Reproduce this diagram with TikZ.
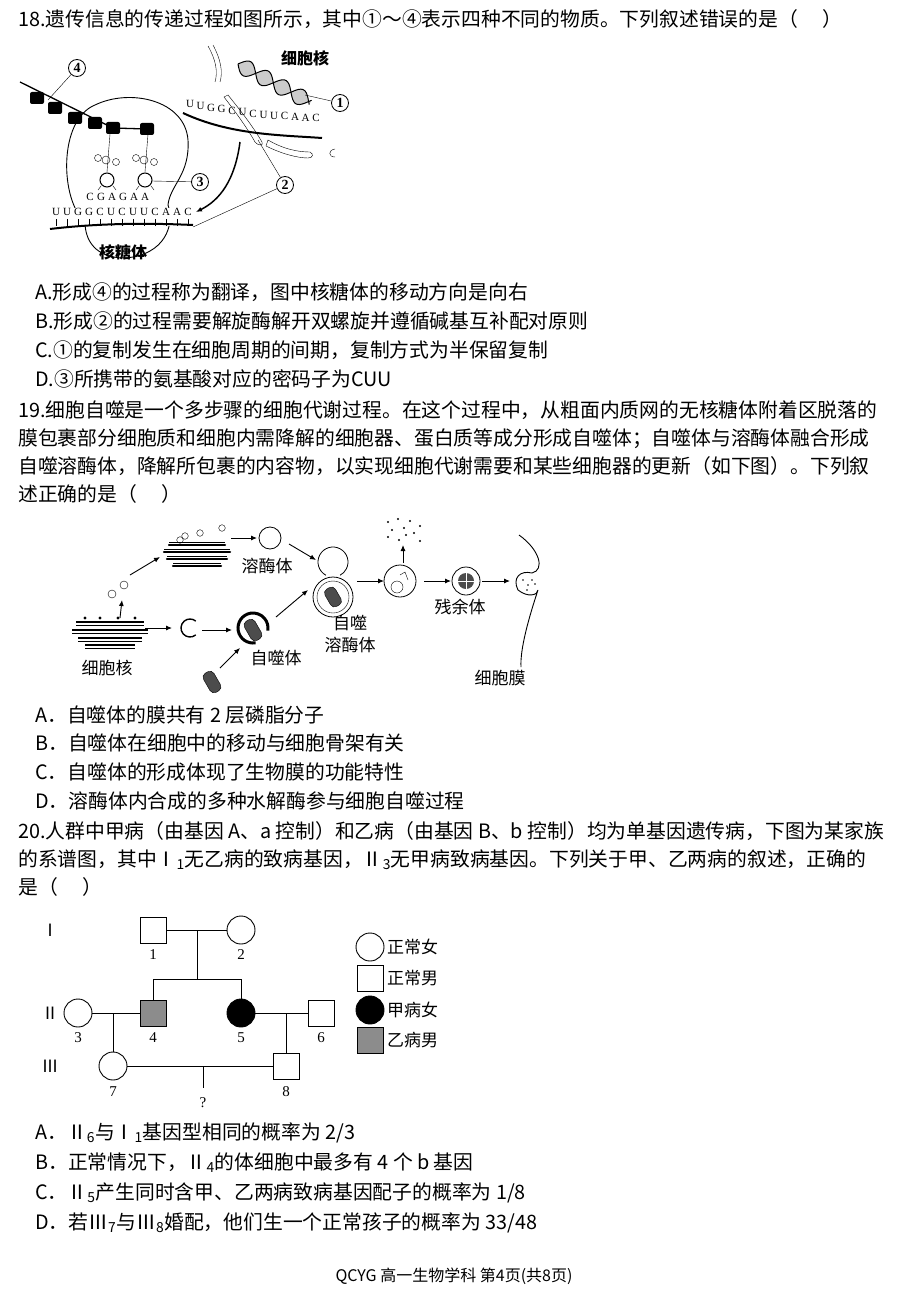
\documentclass[tikz,border=0pt]{standalone}
\usepackage{fontspec}
\setmainfont{Noto Sans CJK SC}
\newfontfamily\lat{Liberation Serif}
\usetikzlibrary{arrows.meta}
\begin{document}
\begin{tikzpicture}[x=1pt,y=-1pt,
 txt/.style={anchor=base west,inner sep=0pt,font=\fontsize{19.8}{22}\selectfont},
 lab/.style={inner sep=0pt,font=\fontsize{16}{18}\selectfont\bfseries},
 lab2/.style={inner sep=0pt,font=\fontsize{17}{18}\selectfont},
 num/.style={inner sep=0pt,font=\lat\fontsize{15}{16}\selectfont},
 cn/.style={draw,circle,inner sep=0pt,minimum size=17pt,line width=0.8pt,font=\lat\fontsize{14}{14}\selectfont\bfseries},
 arr/.style={-{Latex[length=6pt,width=5pt]},line width=0.9pt},
 pl/.style={line width=0.9pt},
 mito/.style={fill=black!70,draw=black,rounded corners=4.5pt},
 bead/.style={fill=black,rounded corners=2pt}]
\useasboundingbox[fill=white] (0,0) rectangle (908,1295);
% ---- Q18 text
\node[txt] (t18) at (18,27) {18.遗传信息的传递过程如图所示，其中①～④表示四种不同的物质。下列叙述错误的是（\quad\ ）};
\node[txt] (a18) at (35,299) {A.形成④的过程称为翻译，图中核糖体的移动方向是向右};
\node[txt] (b18) at (35,328) {B.形成②的过程需要解旋酶解开双螺旋并遵循碱基互补配对原则};
\node[txt] (c18) at (35,357) {C.①的复制发生在细胞周期的间期，复制方式为半保留复制};
\node[txt] (d18) at (35,386) {D.③所携带的氨基酸对应的密码子为CUU};
% ---- Figure 1
\draw[pl] (85,222) .. controls (60,200) and (58,120) .. (95,105) .. controls (130,88) and (185,100) .. (188,140) .. controls (190,175) and (170,185) .. (168,205) .. controls (175,225) and (165,255) .. (125,258) .. controls (95,258) and (85,240) .. (85,222);
\fill[white] (50,208) rectangle (195,226);
\draw[line width=2pt] (50,229) .. controls (100,223) and (150,223) .. (193,225);
\foreach \i/\c in {0/U,1/U,2/G,3/G,4/C,5/U,6/C,7/U,8/U,9/C,10/A,11/A,12/C}{
 \draw (56+\i*11,226) -- (56+\i*11,219);
 \node[num,font=\lat\fontsize{11}{12}\selectfont] (m\i) at (56+\i*11,212) {\c};}
\foreach \i/\c in {0/C,1/G,2/A,3/G,4/A,5/A}{
 \node[num,font=\lat\fontsize{11}{12}\selectfont] (k\i) at (90+\i*11,197) {\c};}
\draw[line width=1.3pt] (20,82) -- (113,128) -- (147,129);
\foreach \x/\y in {37/98,55/108,75/118,95/123,113/128,147/129}{
 \fill[bead] (\x-7,\y-6) rectangle (\x+7,\y+6);}
\foreach \x in {107,145}{
 \draw (\x+3,134) -- (\x,172);
 \draw (\x-1,160) circle (4) ; \draw (\x+9,162) circle (3.5); \draw (\x-9,158) circle(3.5);
 \draw[line width=1pt] (\x,180) circle (7);
 \draw (\x-6,186) -- (\x-9,190); \draw (\x+6,186) -- (\x+9,190);}
\node[cn] (c4) at (77,68) {4};
\draw (c4) -- (48,100);
\node[cn] (c3) at (200,182) {3};
\draw (c3) -- (152,181);
\node[lab] (nuc) at (305,58) {细胞核};
\begin{scope}[shift={(238,64)},rotate=-28]
 \fill[gray!40] plot[domain=0:82,samples=30] (\x,{8*sin(\x*9)}) -- plot[domain=82:0,samples=30] (\x,{-8*sin(\x*9)});
 \draw[line width=1pt] plot[domain=0:82,samples=40] (\x,{8*sin(\x*9)});
 \draw[line width=1pt] plot[domain=0:82,samples=40] (\x,{-8*sin(\x*9)});
\end{scope}
\node[cn] (c1) at (340,103) {1};
\draw (c1) -- (305,95);
\draw (208,46) .. controls (216,60) and (218,72) .. (215,82);
\draw (213,45) .. controls (221,60) and (223,72) .. (220,82);
\draw (228,95) .. controls (240,110) and (252,125) .. (262,142) .. controls (264,146) and (258,146) .. (255,142) .. controls (246,126) and (234,110) .. (224,97) -- cycle;
\draw (268,140) .. controls (285,150) and (300,152) .. (310,152) .. controls (314,154) and (313,158) .. (308,158) .. controls (298,158) and (282,154) .. (266,146) -- cycle;
\draw (335,149) .. controls (328,150) and (328,157) .. (335,157);
\draw[line width=2pt] (183,113) .. controls (230,135) and (280,135) .. (322,138);
\foreach \i/\c in {0/U,1/U,2/G,3/G,4/C,5/U,6/C,7/U,8/U,9/C,10/A,11/A,12/C}{
 \node[num,font=\lat\fontsize{11}{12}\selectfont] (n\i) at (190+\i*10.5,{104+\i*2-0.07*\i*\i}) {\c};}
\node[cn] (c2) at (285,185) {2};
\draw (c2) -- (258,140);
\draw (c2) -- (193,227);
\draw[arr,line width=1.5pt] (240,142) .. controls (235,180) and (220,200) .. (196,212);
\node[lab] (rib) at (123,252) {核糖体};
% ---- Q19 text
\node[txt] (t19a) at (18,417) {19.细胞自噬是一个多步骤的细胞代谢过程。在这个过程中，从粗面内质网的无核糖体附着区脱落的};
\node[txt] (t19b) at (18,445) {膜包裹部分细胞质和细胞内需降解的细胞器、蛋白质等成分形成自噬体；自噬体与溶酶体融合形成};
\node[txt] (t19c) at (18,473) {自噬溶酶体，降解所包裹的内容物，以实现细胞代谢需要和某些细胞器的更新（如下图）。下列叙};
\node[txt] (t19d) at (18,501) {述正确的是（\quad\ ）};
\node[txt] (a19) at (35,722) {A．自噬体的膜共有 2 层磷脂分子};
\node[txt] (b19) at (35,750) {B．自噬体在细胞中的移动与细胞骨架有关};
\node[txt] (c19) at (35,779) {C．自噬体的形成体现了生物膜的功能特性};
\node[txt] (d19) at (35,808) {D．溶酶体内合成的多种水解酶参与细胞自噬过程};
% ---- Figure 2
\foreach \y/\l in {622/-34,630/-38,638/-32,645/-25}{
 \draw[line width=1.5pt,rounded corners=2pt] (110+\l,\y) -- (110-\l,\y);
 \draw (110+\l,\y+3) -- (110-\l,\y+3);}
\foreach \x in {85,100,118,135}{\fill (\x,618) circle (1.6);}
\node[lab2] (er) at (107,668) {细胞核};
\draw (112,594) circle (4); \draw (124,585) circle (4);
\draw[arr] (120,618) -- (122,600);
\draw[arr] (130,575) -- (160,557);
\foreach \y/\l in {545/28,552/33,559/30,566/24}{
 \draw[line width=2.5pt,line cap=round,dash pattern=on 5pt off 1pt] (197-\l,\y) -- (197+\l,\y);
 \draw[line width=0.5pt] (197-\l,\y-2.5) -- (197+\l,\y-2.5);}
\foreach \x/\y in {185/536,200/533,222/528,180/540}{\draw (\x,\y) circle (3.3);}
\draw[arr] (231,538) -- (257,538);
\node[draw,circle,minimum size=22pt,inner sep=0pt,line width=0.8pt] (lyso) at (270,538) {};
\node[lab2] (lysol) at (267,566) {溶酶体};
\draw[arr] (289,544) -- (316,560);
\draw[line width=0.8pt] ([shift={(118:15)}]333,562) arc[start angle=118,end angle=422,radius=15];
\node[draw,circle,minimum size=40pt,inner sep=0pt,line width=0.8pt] (al) at (333,597) {};
\draw (333,597) circle (16);
\fill[mito,rotate around={-60:(333,597)}] (323,591) rectangle (343,603);
\node[lab2] (all1) at (350,623) {自噬};
\node[lab2] (all2) at (350,645) {溶酶体};
\draw[arr] (145,628) -- (172,628);
\draw[line width=1.4pt] ([shift={(50:9)}]190,628) arc[start angle=50,end angle=310,radius=9];
\draw[arr] (202,630) -- (232,630);
\draw[line width=3pt] ([shift={(80:15)}]253,628) arc[start angle=80,end angle=370,radius=15];
\fill[mito,rotate around={-60:(253,630)}] (242,624) rectangle (264,636);
\node[lab2] (apl) at (276,658) {自噬体};
\fill[mito,rotate around={-60:(212,682)}] (201,676) rectangle (223,688);
\draw[arr] (220,668) -- (240,648);
\draw[arr] (276,617) -- (308,590);
\draw[arr] (357,581) -- (384,581);
\node[draw,circle,minimum size=32pt,inner sep=0pt,line width=0.8pt] (d1) at (400,581) {};
\draw (397,587) circle (6); \draw (400,575) -- (405,572) -- (408,580);
\draw[arr] (403,563) -- (403,545);
\foreach \x/\y in {388/522,398/519,410/521,420/526,392/530,404/528,414/533,388/537,399/540,420/541,406/535}{\fill (\x,\y) circle (1.1);}
\draw[arr] (424,581) -- (451,581);
\node[draw,circle,minimum size=28pt,inner sep=0pt,line width=0.8pt] (res) at (466,581) {};
\fill[black!70] (466,581) circle (8);
\draw[white] (458,581) -- (474,581) (466,573) -- (466,589);
\node[lab2] (resl) at (460,607) {残余体};
\draw[arr] (482,581) -- (510,581);
\draw[line width=0.9pt] (519,535) .. controls (540,550) and (545,570) .. (532,573) .. controls (520,570) and (512,578) .. (518,590) .. controls (528,598) and (538,595) .. (538,590) .. controls (528,620) and (520,650) .. (521,667);
\foreach \x/\y in {523/580,528/585,532/580,527/590,535/584}{\fill (\x,\y) circle (0.9);}
\node[lab2] (meml) at (500,678) {细胞膜};
% ---- Q20 text
\node[txt] (t20a) at (18,838) {20.人群中甲病（由基因 A、a 控制）和乙病（由基因 B、b 控制）均为单基因遗传病，下图为某家族};
\node[txt] (t20b) at (18,866) {的系谱图，其中Ⅰ\textsubscript{1}无乙病的致病基因，Ⅱ\textsubscript{3}无甲病致病基因。下列关于甲、乙两病的叙述，正确的};
\node[txt] (t20c) at (18,894) {是（\quad\ ）};
\node[txt] (a20) at (35,1139) {A．Ⅱ\textsubscript{6}与Ⅰ\textsubscript{1}基因型相同的概率为 2/3};
\node[txt] (b20) at (35,1169) {B．正常情况下，Ⅱ\textsubscript{4}的体细胞中最多有 4 个 b 基因};
\node[txt] (c20) at (35,1199) {C．Ⅱ\textsubscript{5}产生同时含甲、乙两病致病基因配子的概率为 1/8};
\node[txt] (d20) at (35,1229) {D．若Ⅲ\textsubscript{7}与Ⅲ\textsubscript{8}婚配，他们生一个正常孩子的概率为 33/48};
% ---- Pedigree
\tikzset{sq/.style={draw,line width=0.9pt,minimum size=26pt,inner sep=0pt},
 ci/.style={draw,circle,line width=0.9pt,minimum size=28pt,inner sep=0pt}}
\node[lab2] (g1) at (50,930) {Ⅰ};
\node[lab2] (g2) at (50,1013) {Ⅱ};
\node[lab2] (g3) at (50,1066) {Ⅲ};
\node[sq] (p1) at (153,930) {};
\node[ci] (p2) at (241,930) {};
\node[ci] (p3) at (78,1013) {};
\node[sq,fill=gray!90] (p4) at (153,1013) {};
\node[ci,fill=black] (p5) at (241,1013) {};
\node[sq] (p6) at (321,1013) {};
\node[ci] (p7) at (113,1066) {};
\node[sq] (p8) at (286,1066) {};
\draw[pl] (p1) -- (p2);
\coordinate (m12) at (197,930);
\coordinate (s12) at (197,979);
\draw[pl] (m12) -- (s12);
\draw[pl] (153,979) -- (241,979);
\draw[pl] (153,979) -- (p4.north);
\draw[pl] (241,979) -- (p5.north);
\draw[pl] (p3) -- (p4);
\draw[pl] (p5) -- (p6);
\draw[pl] (113,1013) -- (p7.north);
\draw[pl] (286,1013) -- (p8.north);
\draw[pl] (p7) -- (p8);
\coordinate (m78) at (203,1066);
\coordinate (s78) at (203,1088);
\draw[pl] (m78) -- (s78);
\node[num] (q) at (203,1103) {?};
\foreach \n/\x/\y in {1/153/955,2/241/955,3/78/1038,4/153/1038,5/241/1038,6/321/1038,7/113/1092,8/286/1092}{\node[num] (l\n) at (\x,\y) {\n};}
\node[ci] (k1) at (370,947) {};
\node[sq] (k2) at (370,978) {};
\node[ci,fill=black] (k3) at (370,1010) {};
\node[sq,fill=gray!90] (k4) at (370,1040) {};
\node[lab2,anchor=west] (kl1) at (387,947) {正常女};
\node[lab2,anchor=west] (kl2) at (387,978) {正常男};
\node[lab2,anchor=west] (kl3) at (387,1010) {甲病女};
\node[lab2,anchor=west] (kl4) at (387,1040) {乙病男};
% ---- footer
\node[inner sep=0pt,font=\fontsize{16}{18}\selectfont] (foot) at (454,1276) {QCYG 高一生物学科 第4页(共8页)};
\end{tikzpicture}
\end{document}
